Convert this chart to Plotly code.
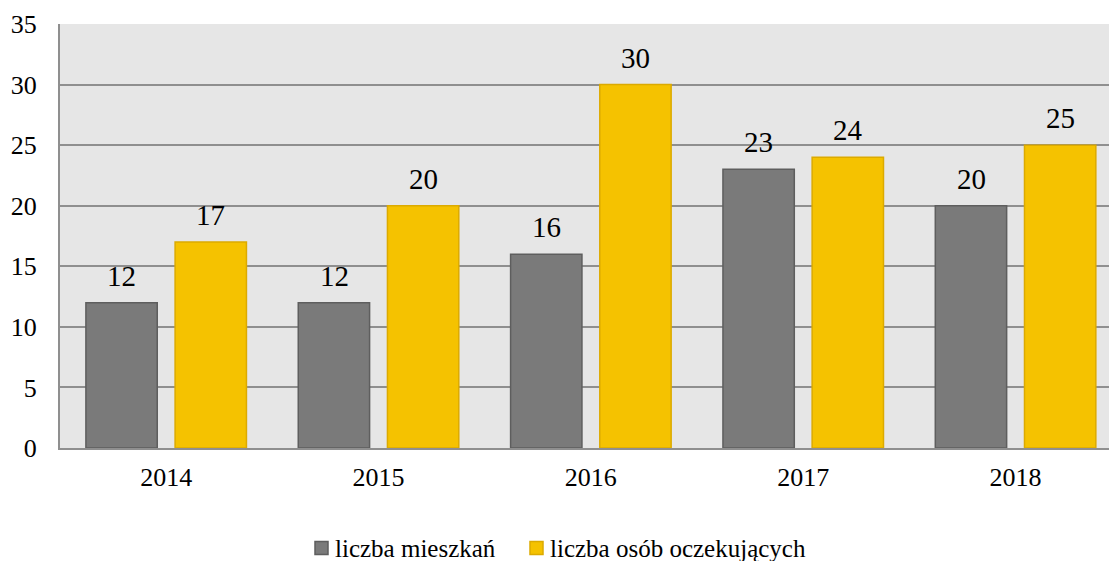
import plotly.graph_objects as go

years = ["2014", "2015", "2016", "2017", "2018"]
liczba_mieszkan = [12, 12, 16, 23, 20]
liczba_oczekujacych = [17, 20, 30, 24, 25]
series_names = ["liczba mieszkań", "liczba osób oczekujących"]

font_family = "Times New Roman"
grey_fill, grey_line = "#7a7a7a", "#5e5e5e"
gold_fill, gold_line = "#f5c200", "#dcaa00"
grid_color = "#8f8f8f"

W, H = 1109, 561
M_L, M_R, M_T, M_B = 60, 0, 24, 113
plot_w, plot_h = W - M_L - M_R, H - M_T - M_B


def px_x(px):
    return (px - M_L) / plot_w


def px_y(py):
    return (H - M_B - py) / plot_h


fig = go.Figure()
fig.add_trace(go.Bar(
    x=years, y=liczba_mieszkan, name=series_names[0],
    marker=dict(color=grey_fill, line=dict(color=grey_line, width=1.5)),
))
fig.add_trace(go.Bar(
    x=years, y=liczba_oczekujacych, name=series_names[1],
    marker=dict(color=gold_fill, line=dict(color=gold_line, width=1.5)),
))

# value labels above each bar, shifted to the centre of its slot in the group
slot_px = 44.5
for values, shift in ((liczba_mieszkan, -slot_px), (liczba_oczekujacych, slot_px)):
    for i, v in enumerate(values):
        fig.add_annotation(
            x=i, y=v, xref="x", yref="y", text=str(v), showarrow=False,
            xshift=shift, yshift=9, yanchor="bottom",
            font=dict(family=font_family, size=29, color="#000000"),
        )

# legend row below the chart: square swatch followed by the series name
legend_items = [
    (series_names[0], grey_fill, grey_line, 315),
    (series_names[1], gold_fill, gold_line, 530),
]
legend_cy = 548
for name, fill, line, x0 in legend_items:
    fig.add_shape(
        type="rect", xref="paper", yref="paper",
        x0=px_x(x0), x1=px_x(x0 + 13),
        y0=px_y(legend_cy + 6.5), y1=px_y(legend_cy - 6.5),
        fillcolor=fill, line=dict(color=line, width=1.5),
    )
    fig.add_annotation(
        x=px_x(x0 + 18), y=px_y(legend_cy), xref="paper", yref="paper",
        text=name, showarrow=False, xanchor="left", yanchor="middle",
        font=dict(family=font_family, size=25, color="#000000"),
    )

fig.update_layout(
    width=W, height=H,
    margin=dict(l=M_L, r=M_R, t=M_T, b=M_B, autoexpand=False),
    paper_bgcolor="#ffffff",
    plot_bgcolor="#e6e6e6",
    barmode="group",
    bargap=0.16,
    bargroupgap=0.2,
    font=dict(family=font_family, size=26, color="#000000"),
    showlegend=False,
)
fig.update_xaxes(
    type="category",
    range=[-0.5, 4.44],
    showgrid=False, showline=True, linecolor=grid_color, linewidth=2,
    ticks="", ticklabelstandoff=5,
    tickfont=dict(family=font_family, size=26),
)
fig.update_yaxes(
    range=[0, 35], dtick=5, tick0=0,
    showgrid=True, gridcolor=grid_color, gridwidth=1.5,
    showline=True, linecolor=grid_color, linewidth=2,
    zeroline=False, ticks="", ticklabelstandoff=16,
    tickfont=dict(family=font_family, size=26),
)

fig.write_html("out.html")
